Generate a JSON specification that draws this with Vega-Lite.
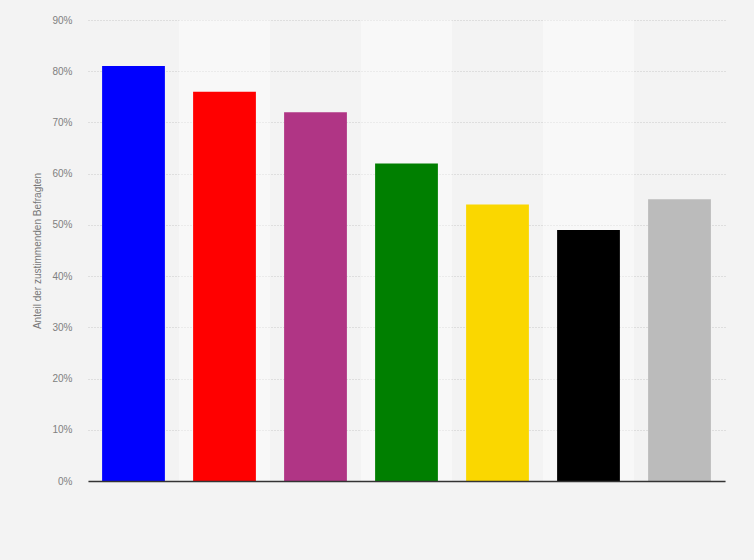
{
  "$schema": "https://vega.github.io/schema/vega-lite/v6.json",
  "width": 637,
  "height": 461,
  "autosize": {"type": "none"},
  "padding": {"left": 88, "top": 20, "right": 29, "bottom": 79},
  "background": "#f3f3f3",
  "config": {
    "font": "Liberation Sans",
    "view": {"stroke": null}
  },
  "data": {
    "values": [
      {"partei": "AfD", "anteil": 81},
      {"partei": "SPD", "anteil": 76},
      {"partei": "Die Linke", "anteil": 72},
      {"partei": "Grüne", "anteil": 62},
      {"partei": "FDP", "anteil": 54},
      {"partei": "CDU/CSU", "anteil": 49},
      {"partei": "Sonstige", "anteil": 55}
    ]
  },
  "transform": [{"window": [{"op": "row_number", "as": "nr"}]}],
  "encoding": {
    "x": {
      "field": "partei",
      "type": "nominal",
      "sort": null,
      "scale": {"paddingInner": 0, "paddingOuter": 0},
      "axis": {
        "labels": false,
        "ticks": false,
        "title": null,
        "domainColor": "#333333",
        "domainWidth": 1.5,
        "zindex": 1
      }
    }
  },
  "layer": [
    {
      "mark": {"type": "bar", "width": {"band": 1}, "color": "#ffffff"},
      "encoding": {
        "y": {
          "datum": 90,
          "type": "quantitative",
          "scale": {"domain": [0, 90]},
          "axis": {
            "title": "Anteil der zustimmenden Befragten",
            "titleFontSize": 10,
            "titleFontWeight": "normal",
            "titleColor": "#777777",
            "titlePadding": 9,
            "values": [0, 10, 20, 30, 40, 50, 60, 70, 80, 90],
            "labelExpr": "datum.value + '%'",
            "labelFontSize": 10,
            "labelColor": "#808080",
            "labelPadding": 16,
            "domain": false,
            "ticks": false,
            "grid": true,
            "gridColor": "#c8c8c8",
            "gridDash": [1, 2]
          }
        },
        "opacity": {
          "condition": {"test": "datum.nr % 2 == 0", "value": 0.4},
          "value": 0
        }
      }
    },
    {
      "mark": {"type": "bar", "width": {"band": 0.69}},
      "encoding": {
        "y": {"field": "anteil", "type": "quantitative"},
        "color": {
          "field": "partei",
          "type": "nominal",
          "sort": null,
          "scale": {
            "domain": ["AfD", "SPD", "Die Linke", "Grüne", "FDP", "CDU/CSU", "Sonstige"],
            "range": ["#0000ff", "#ff0000", "#b03585", "#007f00", "#fad700", "#000000", "#bbbbbb"]
          },
          "legend": null
        }
      }
    }
  ]
}
